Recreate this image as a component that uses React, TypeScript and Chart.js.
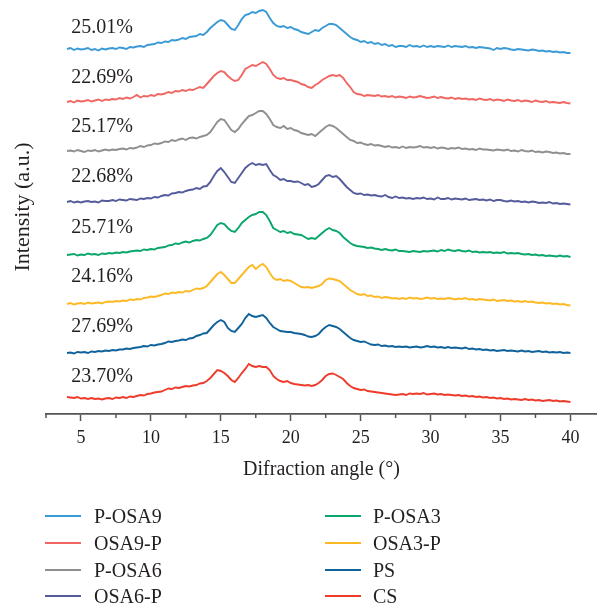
import { useEffect, useRef } from 'react';
import { Chart, registerables } from 'chart.js';

Chart.register(...registerables);

// ---- data ----
const angleStart = 4;
const angleStep = 0.25;

const seriesNames = ['P-OSA9', 'OSA9-P', 'P-OSA6', 'OSA6-P', 'P-OSA3', 'OSA3-P', 'PS', 'CS'];
const seriesColors = ['#3A9AD6', '#EF6662', '#8F8F8F', '#545B9B', '#0AA66B', '#FDB924', '#10629B', '#EE3B2B'];
const crystallinity = ['25.01%', '22.69%', '25.17%', '22.68%', '25.71%', '24.16%', '27.69%', '23.70%'];
// vertical stacking offset of each pattern (a.u.)
const baselineOffsets = [365, 312, 263, 212, 159, 110, 61, 17];
// level (a.u.) of each crystallinity label
const labelLevels = [386, 336, 287, 237, 186, 137, 87, 37];

const xMajorTicks = [5, 10, 15, 20, 25, 30, 35, 40];
const xMinorTicks = [2.5, 7.5, 12.5, 17.5, 22.5, 27.5, 32.5, 37.5];

// intensities (a.u.) sampled every 0.25° from 4° to 40°
const pOsa9 = [
  0, 1, -1, 0.5, -0.5, 0, 1, -1, 0, -1.5, 0.5, -0.5, 0.5, 1, 0, 1.5,
  1, 0, 2, 1.5, 2.5, 3, 2, 4, 4.5, 5, 6.5, 6, 7.5, 7, 9, 8.5,
  9.5, 11, 10, 12, 12.5, 13, 15, 14, 17, 21, 24, 27, 29, 28, 24, 20,
  19, 24, 30, 34, 35, 37, 36, 38, 39, 37, 31, 26, 23, 22, 23, 21,
  22, 20, 19, 17, 16, 15, 17, 19, 18, 21, 23, 25, 25, 24, 21, 18,
  15, 12, 10, 9, 7, 8, 6, 7, 5, 6, 4, 5, 3, 4, 2, 3,
  3, 2, 4, 2.5, 3, 2, 3.5, 2, 3, 2, 3, 2.5, 2, 3.5, 2, 3,
  2.5, 2, 3, 1.5, 2, 1, 2, 1.5, 1, 0.5, -1, 1, 0, 1, 0.5, -0.5,
  -1, 0, -0.5, -1, -1.5, -0.5, -1, -2, -1.5, -2.5, -2, -3, -2.5, -3.5, -3, -4,
  -4,
];
const osa9P = [
  0, 1, -0.5, 1.5, 0.5, 1, 2, 0.5, 1.5, 2.5, 1, 2.5, 2, 3, 2.5, 4,
  3, 4.5, 3.5, 5, 7, 4.5, 6, 5.5, 7, 6, 8, 7.5, 8.5, 10, 9, 11,
  10.5, 12, 11, 12.5, 12, 13.5, 15, 14, 18, 22, 26, 29, 31, 30, 26, 23,
  21, 22, 27, 33, 35, 37, 36, 38, 40, 38, 33, 27, 24, 23, 24, 22,
  22, 21, 20, 18, 17, 15, 14, 17, 19, 22, 24, 26, 27, 26, 27, 24,
  19, 15, 10, 8, 7.5, 6, 7, 6.5, 6, 7, 5.5, 6, 5, 6, 4.5, 5.5,
  5, 4, 5.5, 4.5, 5, 6, 5, 4, 4.5, 5.5, 4, 5, 4, 3.5, 4.5, 3,
  4, 3, 3.5, 2.5, 3, 2, 3.5, 2.5, 2, 3, 1.5, 2.5, 2, 1, 2.5, 1.5,
  1, 2, 0.5, 1.5, 1, 0, 1.5, 0.5, 0, 1, -0.5, 0, -0.5, -1, 0, -1,
  -1.5,
];
const pOsa6 = [
  0, 0.5, -0.5, 1, 0, -1, 0.5, 0, 1, -0.5, 0.5, 1.5, 0.5, 1.5, 1, 2,
  2.5, 1.5, 3, 2.5, 3.5, 5, 4, 5.5, 6, 7.5, 7, 8, 9.5, 9, 11, 10,
  11.5, 12.5, 11, 13, 13.5, 12.5, 14, 15, 16, 19, 24, 29, 32, 31, 26, 21,
  19, 22, 27, 31, 35, 36, 38, 40, 40, 37, 32, 26, 24, 23, 25, 22,
  23, 21, 20, 18, 17, 16, 17, 15, 18, 21, 24, 26, 25, 23, 20, 17,
  14, 11, 10, 8, 8.5, 7, 6, 7, 5.5, 6, 5, 4, 5, 3.5, 4, 3,
  4.5, 3, 4, 3.5, 4, 5, 3.5, 4, 3, 4, 2.5, 3.5, 3, 2, 3, 2.5,
  3.5, 2, 2.5, 1.5, 2, 1, 2.5, 1.5, 1.5, 1, 0.5, 1.5, 1, 0.5, 1.5, 0,
  0.5, -0.5, 1, 0, -0.5, 0.5, -1, -0.5, -1.5, -0.5, -1, -2, -1.5, -2.5, -2, -3,
  -3,
];
const osa6P = [
  0, 1, -0.5, 0.5, -0.5, 0.5, 1, 0, 0.5, -0.5, 1.5, 1, 1, 2, 1, 2.5,
  2, 1.5, 3, 2.5, 2, 3.5, 3, 4, 3.5, 5, 4.5, 6, 7, 6.5, 8.5, 9,
  10, 9.5, 11, 12, 12.5, 14, 13, 15.5, 16, 20, 26, 31, 34, 30, 25, 20,
  19, 24, 29, 34, 37, 39, 37, 38, 37, 38, 32, 27, 25, 22, 23, 21,
  21, 20, 20.5, 19, 17, 18, 15, 16, 18, 22, 26, 27, 25, 26, 23, 19,
  15, 12, 9, 8, 8.5, 7, 7.5, 6.5, 7, 6, 5.5, 7, 5, 4, 5.5, 4,
  4.5, 3.5, 4, 3, 4, 3.5, 4.5, 3, 3.5, 2.5, 4.5, 3, 3, 4, 2.5, 3.5,
  3, 2.5, 3.5, 2, 2.5, 3, 2, 2.5, 1.5, 2.5, 1, 2, 2, 1, 0.5, 1.5,
  0.5, 1, 0, 0.5, -0.5, 0.5, 0, -1, -0.5, -1, 0, -1.5, -1, -2, -1.5, -2,
  -2.5,
];
const pOsa3 = [
  0, 0.5, 1, -0.5, 0.5, 0, 1.5, 0.5, 1, 0, 1.5, 1, 2, 1.5, 2.5, 2,
  3, 2.5, 3.5, 4, 4.5, 4, 5.5, 5, 6, 5.5, 7, 7.5, 8, 9.5, 10, 11.5,
  11, 12.5, 13.5, 12.5, 14, 15, 14.5, 16, 17, 20, 25, 30, 32, 31, 27, 24,
  23, 27, 32, 35, 38, 40, 41, 43, 43, 40, 34, 27, 25, 23, 24, 22,
  23, 21, 20.5, 20, 18, 16, 17, 16, 19, 22, 25, 27, 25, 24, 22, 18,
  15, 12, 10, 9, 8.5, 8, 7, 7.5, 6.5, 6, 5, 6, 5, 4.5, 5.5, 4,
  4, 3.5, 3, 4, 3.5, 3, 4, 3.5, 4, 4.5, 3.5, 5, 4, 5.5, 4.5, 4,
  5, 4, 3.5, 4.5, 3, 3.5, 2.5, 3, 2.5, 3, 2, 2.5, 2, 3, 1.5, 2,
  1.5, 2, 1, 0.5, 1, 0, 0.5, -0.5, 0, -1, -0.5, -1, -1.5, -0.5, -1.5, -1,
  -2,
];
const osa3P = [
  0, 1, -0.5, 0.5, 1, 0, 1.5, 0.5, 1, 1.5, 0.5, 2, 2.5, 2, 3, 2.5,
  3.5, 3, 4.5, 4, 5, 4.5, 6, 6.5, 7.5, 7, 8, 9, 10.5, 10, 11.5, 11,
  12, 11.5, 13, 12.5, 14, 15.5, 15, 16, 18, 22, 26, 30, 32, 29, 25, 21,
  21, 25, 29, 33, 37, 39, 35, 38, 40, 37, 31, 26, 24, 25, 23, 24,
  23, 21, 19, 17, 16.5, 17, 16, 17, 18, 20, 24, 25.5, 25, 24, 23, 20,
  17, 14, 12, 10, 9, 10, 8, 8.5, 7, 7.5, 6, 7, 6.5, 5.5, 6, 5,
  6, 5, 6.5, 5.5, 6, 5, 5.5, 6.5, 5.5, 6, 5, 5.5, 5, 6, 5.5, 4.5,
  5.5, 5, 6, 4.5, 5, 4, 5, 4.5, 4, 3.5, 4.5, 3, 3.5, 4, 3, 3.5,
  2.5, 3, 2, 3, 2, 2.5, 1.5, 1, 1.5, 0.5, 1, 0, 0.5, -0.5, 0, -1,
  -1.5,
];
const ps = [
  0, 0.5, -0.5, 1, 0.5, 1, 0, 1.5, 1, 2, 1.5, 2.5, 2, 3, 2.5, 3.5,
  3.5, 4.5, 4, 5, 5.5, 6, 7, 6.5, 8, 7.5, 8.5, 9, 10, 11.5, 11, 12,
  12.5, 13.5, 13, 14.5, 15, 17, 18, 19.5, 20, 24, 28, 31, 33, 31, 25, 22,
  21, 25, 29, 35, 39, 37, 36, 37, 38, 35, 30, 26, 24, 22, 21.5, 21,
  21, 20, 19.5, 19, 18, 16.5, 16, 17, 19, 23, 26, 28, 27, 26, 24, 21,
  18, 15, 13, 12, 11, 11.5, 10, 8.5, 8, 8.5, 7, 7.5, 6.5, 7, 6, 6.5,
  6, 6.5, 5.5, 6, 6.5, 5.5, 6, 7, 6, 6.5, 5.5, 6, 5, 6, 5, 5.5,
  5, 4.5, 5.5, 4, 4.5, 3.5, 4, 3, 3.5, 2.5, 3, 2, 2.5, 3, 2, 2.5,
  2, 1.5, 2.5, 1.5, 2, 1, 1.5, 2, 1, 1.5, 0.5, 1, 0.5, 1, 0, 0.5,
  0,
];
const cs = [
  0, -0.5, -1, 0, -1.5, -1, -2, -1, -2, -1.5, -2.5, -1.5, -1, -2, -0.5, -1,
  0, -1, 0.5, 0, 1, 2, 1.5, 3, 3.5, 4.5, 5, 5.5, 7, 8.5, 8, 9.5,
  9, 10, 11, 10.5, 11.5, 12, 13.5, 14, 16, 19, 23, 27, 26, 24, 21, 17,
  15, 19, 24, 28, 33, 31, 30, 31, 30, 30, 27, 21, 18, 16, 15, 16,
  14, 13, 12.5, 12, 11.5, 12, 11, 12, 14, 17, 21, 23, 23.5, 22, 20, 18,
  14, 11, 9, 8, 7, 7.5, 6, 5.5, 5, 4.5, 4, 3.5, 3, 2.5, 2, 2.5,
  3, 2, 3.5, 3, 3.5, 3, 4, 2.5, 3, 3.5, 2.5, 3, 2, 2.5, 2, 1.5,
  2, 1, 1.5, 0.5, 1, 0, 0.5, -0.5, 0, -1, -0.5, -1.5, -1, -2, -1.5, -2.5,
  -2, -2.5, -3, -2, -3, -2.5, -3.5, -3, -4, -3.5, -3, -4, -3.5, -4.5, -4, -4.5,
  -5,
];

const seriesValues = [pOsa9, osa9P, pOsa6, osa6P, pOsa3, osa3P, ps, cs];

const FONT = '"Liberation Serif", "Times New Roman", serif';
const TEXT = '#231F20';
const AXIS = '#555555';

export default function App() {
  const canvasRef = useRef<HTMLCanvasElement | null>(null);

  useEffect(() => {
    const canvas = canvasRef.current;
    if (!canvas) return;

    const datasets = seriesValues.map((vals, si) => ({
      label: seriesNames[si],
      data: vals.map((v, i) => ({ x: angleStart + i * angleStep, y: v + baselineOffsets[si] })),
      borderColor: seriesColors[si],
      backgroundColor: seriesColors[si],
      borderWidth: 1.9,
      pointRadius: 0,
      tension: 0,
      fill: false,
    }));

    const annotate = {
      id: 'annotate',
      afterDraw(chart: any) {
        const { ctx, scales } = chart;
        const xs = scales.x;
        const ys = scales.y;
        const bottom = chart.chartArea.bottom;
        ctx.save();
        // minor ticks
        ctx.strokeStyle = AXIS;
        ctx.lineWidth = 1.5;
        xMinorTicks.forEach((v) => {
          const px = xs.getPixelForValue(v);
          if (px < chart.chartArea.left - 1 || px > chart.chartArea.right + 1) return;
          ctx.beginPath();
          ctx.moveTo(px, bottom);
          ctx.lineTo(px, bottom + 4);
          ctx.stroke();
        });
        // crystallinity labels
        ctx.fillStyle = TEXT;
        ctx.font = `20px ${FONT}`;
        ctx.textAlign = 'left';
        ctx.textBaseline = 'middle';
        crystallinity.forEach((t, i) => {
          ctx.fillText(t, xs.getPixelForValue(4.3), ys.getPixelForValue(labelLevels[i]));
        });
        ctx.restore();
      },
    };

    const chart = new Chart(canvas, {
      type: 'line',
      data: { datasets },
      options: {
        animation: false,
        responsive: false,
        devicePixelRatio: 1,
        layout: { padding: { left: 0, right: 0, top: 0, bottom: 121 } },
        plugins: { legend: { display: false }, tooltip: { enabled: false } },
        scales: {
          x: {
            type: 'linear',
            min: 2.5,
            max: 41.9,
            afterBuildTicks: (s: any) => {
              s.ticks = xMajorTicks.map((v) => ({ value: v }));
            },
            afterFit: (s: any) => {
              s.height = 72;
            },
            grid: {
              display: true,
              drawOnChartArea: false,
              drawTicks: true,
              tickLength: 7,
              tickColor: AXIS,
              tickWidth: 1.5,
            },
            border: { display: true, color: AXIS, width: 1.7 },
            ticks: {
              padding: 6,
              color: TEXT,
              font: { family: FONT, size: 18 },
              maxRotation: 0,
              autoSkip: false,
            },
            title: {
              display: true,
              text: 'Difraction angle (°)',
              color: TEXT,
              font: { family: FONT, size: 20 },
              padding: { top: 0, bottom: 4 },
            },
          },
          y: {
            type: 'linear',
            min: 0,
            max: 414,
            afterFit: (s: any) => {
              s.width = 46;
            },
            grid: { display: false },
            border: { display: false },
            ticks: { display: false },
            title: {
              display: true,
              text: 'Intensity (a.u.)',
              color: TEXT,
              font: { family: FONT, size: 22 },
              padding: { top: 10, bottom: 0 },
            },
          },
        },
      },
      plugins: [annotate],
    });

    return () => chart.destroy();
  }, []);

  const legendRows = [0, 1, 2, 3];
  return (
    <div style={{ position: 'absolute', left: 0, top: 0, width: 597, height: 607, background: '#fff', overflow: 'hidden' }}>
      <canvas ref={canvasRef} width={597} height={607} style={{ width: 597, height: 607, display: 'block' }} />
      {[0, 1].map((col) =>
        legendRows.map((row) => {
          const si = col * 4 + row;
          const top = 516 + row * 26.8;
          const lx = col === 0 ? 45 : 325;
          const tx = col === 0 ? 94 : 373;
          return (
            <div key={si}>
              <div
                style={{
                  position: 'absolute',
                  left: lx,
                  top: top - 1,
                  width: 36,
                  height: 2,
                  background: seriesColors[si],
                }}
              />
              <div
                style={{
                  position: 'absolute',
                  left: tx,
                  top: top - 12,
                  height: 24,
                  lineHeight: '24px',
                  fontFamily: FONT,
                  fontSize: 20,
                  color: TEXT,
                  whiteSpace: 'nowrap',
                }}
              >
                {seriesNames[si]}
              </div>
            </div>
          );
        })
      )}
    </div>
  );
}
